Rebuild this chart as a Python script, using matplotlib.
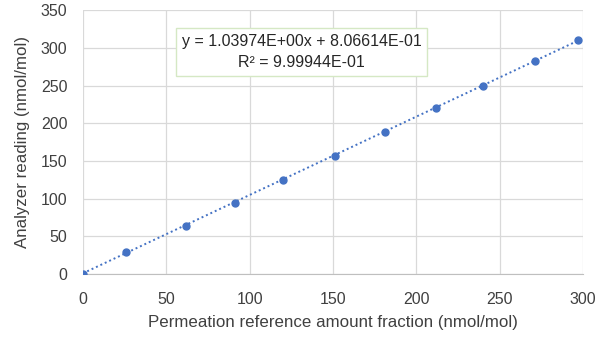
import matplotlib.pyplot as plt
import numpy as np

# Calibration points (nmol/mol)
reference = [0, 26, 62, 91, 120, 151, 181, 212, 240, 271, 297]
reading = [0, 29, 64, 94, 125, 157, 188, 220, 250, 283, 310]

slope = 1.03974
intercept = 0.806614
r_squared = 0.999944

BLUE = '#4472C4'
GRID = '#d9d9d9'

plt.rcParams['font.family'] = ['Liberation Sans', 'DejaVu Sans']

fig = plt.figure(figsize=(6.0, 3.37), dpi=100)
ax = fig.add_axes([0.138, 0.187, 0.834, 0.783])

ax.plot(reference, reading, 'o', color=BLUE, markersize=5, zorder=3)

x_fit = np.array([min(reference), max(reference)])
ax.plot(x_fit, slope * x_fit + intercept, linestyle=(0, (1, 1.5)), color=BLUE,
        linewidth=1.4, zorder=2)

ax.set_xlim(0, 300)
ax.set_ylim(0, 350)
ax.set_xticks(np.arange(0, 301, 50))
ax.set_yticks(np.arange(0, 351, 50))
ax.grid(color=GRID, linewidth=0.9)
ax.set_axisbelow(True)
for side in ['top', 'right', 'left']:
    ax.spines[side].set_visible(False)
ax.spines['bottom'].set_color('#bfbfbf')
ax.tick_params(axis='x', length=0, labelsize=11.5, colors='#404040', pad=13)
ax.tick_params(axis='y', length=0, labelsize=11.5, colors='#404040', pad=11)

ax.set_xlabel('Permeation reference amount fraction (nmol/mol)', fontsize=12.2,
              color='#404040', labelpad=6)
ax.set_ylabel('Analyzer reading (nmol/mol)', fontsize=12.2, color='#404040',
              labelpad=8)

# Excel-style trendline label
label = (f'y = {slope:.5E}x + {intercept:.5E}\n'
         f'R\u00b2 = {r_squared:.5E}')
ax.text(0.437, 0.841, label, transform=ax.transAxes, ha='center', va='center',
        fontsize=11.5, color='#262626', linespacing=1.5,
        bbox=dict(boxstyle='square,pad=0.38', facecolor='white',
                  edgecolor='#d5e8c4', linewidth=1.0))

fig.savefig('out.png', dpi=100)
